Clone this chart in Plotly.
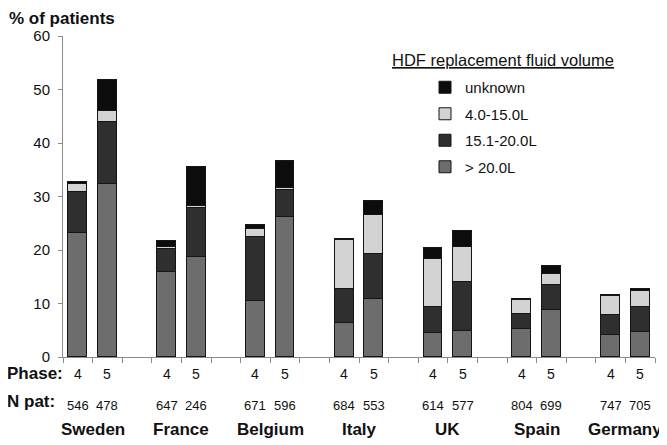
import plotly.graph_objects as go

countries = ["Sweden", "France", "Belgium", "Italy", "UK", "Spain", "Germany"]
phases = ["4", "5"]
n_pat = [546, 478, 647, 246, 671, 596, 684, 553, 614, 577, 804, 699, 747, 705]
gt20 = [23.2, 32.4, 15.8, 18.7, 10.5, 26.2, 6.3, 10.8, 4.4, 4.9, 5.3, 8.7, 4.2, 4.7]
v15_20 = [7.6, 11.6, 4.4, 9.2, 11.9, 5.0, 6.5, 8.5, 4.9, 9.2, 2.7, 4.7, 3.6, 4.6]
v4_15 = [1.5, 1.9, 0.4, 0.3, 1.5, 0.4, 9.1, 7.2, 9.0, 6.5, 2.6, 2.1, 3.6, 3.0]
unknown = [0.4, 5.9, 1.0, 7.4, 0.8, 5.0, 0.2, 2.6, 2.0, 2.9, 0.3, 1.5, 0.2, 0.5]

series = [
    ("> 20.0L", gt20, "#6d6d6d", 4),
    ("15.1-20.0L", v15_20, "#2f2f2f", 3),
    ("4.0-15.0L", v4_15, "#d3d3d3", 2),
    ("unknown", unknown, "#0c0c0c", 1),
]

# bar positions: two bars per country, one empty slot between countries
xpos = []
for i in range(len(countries)):
    for j in range(len(phases)):
        xpos.append(3 * i + j)

FONT = "Liberation Sans, Arial, sans-serif"

# page body has an 8px margin; work in screen pixels and convert
OFF = 8
SW, SH = 667, 445
W, H = SW - OFF, SH - OFF
# screen positions of the plot area
S_L, S_R, S_T, S_B = 63, 655, 36, 357
L = S_L - OFF
T = S_T - OFF
R = W - (S_R - OFF)
B = H - (S_B - OFF)
ph = S_B - S_T
pw = S_R - S_L

def py(p):
    return (S_B - p) / ph

def px(p):
    return (p - S_L) / pw

fig = go.Figure()
for name, vals, col, rank in series:
    fig.add_trace(go.Bar(
        x=xpos, y=vals, name=name, width=0.63,
        marker=dict(color=col, line=dict(color="#151515", width=1)),
        legendgroup=name, legendrank=rank,
    ))

ann = []
ann.append(dict(text="<b>% of patients</b>", x=px(8), y=py(8), xref="paper", yref="paper",
                xanchor="left", yanchor="top", showarrow=False, borderpad=0,
                font=dict(size=17, color="#111")))
ann.append(dict(text="<b>Phase:</b>", x=px(5), y=py(374), xref="paper", yref="paper",
                xanchor="left", yanchor="middle", showarrow=False, font=dict(size=17, color="#111")))
ann.append(dict(text="<b>N pat:</b>", x=px(5), y=py(402), xref="paper", yref="paper",
                xanchor="left", yanchor="middle", showarrow=False, font=dict(size=17, color="#111")))
for idx, xv in enumerate(xpos):
    ann.append(dict(text=phases[idx % 2], x=xv, y=py(374), xref="x", yref="paper",
                    xanchor="center", yanchor="middle", showarrow=False, font=dict(size=14, color="#111")))
    ann.append(dict(text=str(n_pat[idx]), x=xv, y=py(405), xref="x", yref="paper",
                    xanchor="center", yanchor="middle", showarrow=False, font=dict(size=13, color="#111")))
for i, c in enumerate(countries):
    ann.append(dict(text="<b>" + c + "</b>", x=3 * i + 0.5, y=py(429), xref="x", yref="paper",
                    xanchor="center", yanchor="middle", showarrow=False, font=dict(size=17, color="#111")))
ann.append(dict(text="<u>HDF replacement fluid volume</u>", x=px(503), y=py(60), xref="paper", yref="paper",
                xanchor="center", yanchor="middle", showarrow=False, font=dict(size=16.5, color="#111")))

fig.update_layout(
    width=W, height=H,
    margin=dict(l=L, r=R, t=T, b=B),
    paper_bgcolor="white", plot_bgcolor="white",
    barmode="stack", bargap=0,
    font=dict(family=FONT, color="#111"),
    showlegend=True,
    legend=dict(x=px(425), y=py(71), xanchor="left", yanchor="top",
                traceorder="grouped", tracegroupgap=4,
                font=dict(size=15, color="#111"), bgcolor="rgba(0,0,0,0)", itemwidth=30),
    annotations=ann,
    xaxis=dict(range=[-0.5, 19.5], tickmode="array", tickvals=[v - 0.5 for v in range(21)],
               ticks="outside", ticklen=5, tickcolor="#8a8a8a", showticklabels=False,
               showline=True, linecolor="#8a8a8a", linewidth=1, showgrid=False, zeroline=False),
    yaxis=dict(range=[0, 60], dtick=10, ticks="outside", ticklen=4, tickcolor="#8a8a8a",
               showline=True, linecolor="#8a8a8a", linewidth=1, showgrid=False, zeroline=False,
               ticklabelstandoff=5, tickfont=dict(size=15, color="#111")),
)

fig.write_html("out.html")
